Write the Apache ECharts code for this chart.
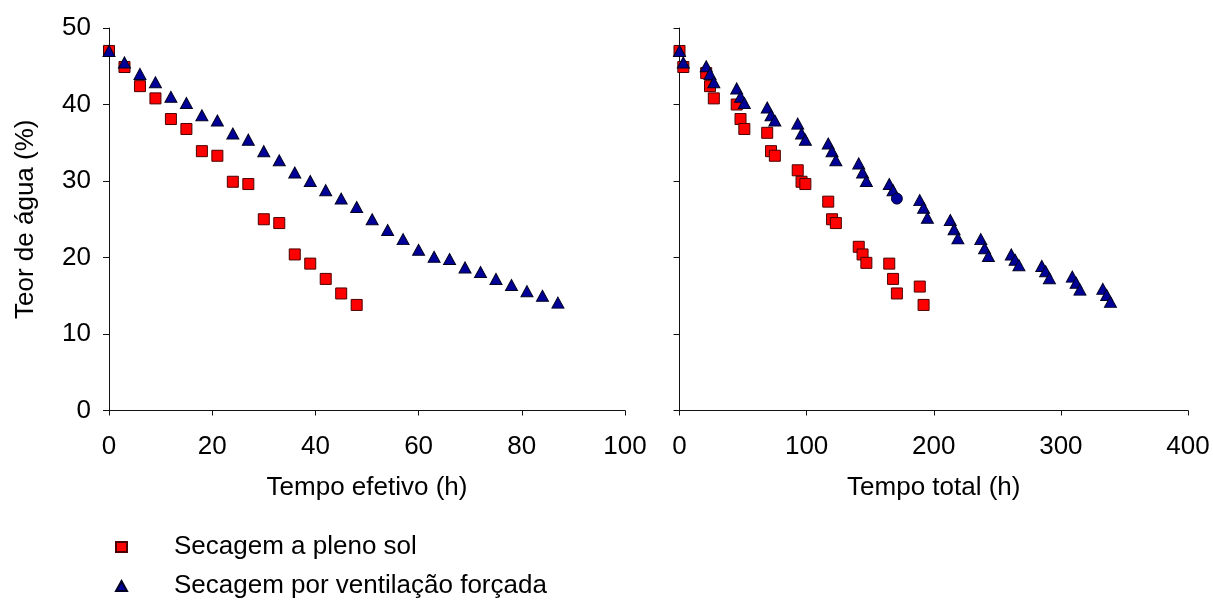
<!DOCTYPE html>
<html>
<head>
<meta charset="utf-8">
<script src="https://cdn.jsdelivr.net/npm/echarts@6/dist/echarts.min.js"></script>
<style>
html,body{margin:0;padding:0;background:#fff;}
#chart{width:1213px;height:607px;}
</style>
</head>
<body>
<div id="chart"></div>
<script>
// ---- Data ----
const seriesNames = ['Secagem a pleno sol', 'Secagem por ventilação forçada'];

// Left panel: Tempo efetivo (h)
const efSolTime = [0, 3, 6, 9, 12, 15, 18, 21, 24, 27, 30, 33, 36, 39, 42, 45, 48];
const efSolTeor = [47.0, 44.9, 42.4, 40.8, 38.1, 36.8, 33.9, 33.3, 29.9, 29.6, 25.0, 24.5, 20.4, 19.2, 17.2, 15.3, 13.8];

const efVentTime = [0, 3, 6, 9, 12, 15, 18, 21, 24, 27, 30, 33, 36, 39, 42, 45, 48, 51, 54, 57, 60, 63, 66, 69, 72, 75, 78, 81, 84, 87];
const efVentTeor = [47.0, 45.5, 44.0, 42.9, 41.0, 40.2, 38.6, 37.9, 36.2, 35.4, 33.9, 32.7, 31.1, 30.0, 28.8, 27.7, 26.6, 25.0, 23.6, 22.4, 21.0, 20.1, 19.8, 18.7, 18.1, 17.2, 16.4, 15.6, 15.0, 14.1];

// Right panel: Tempo total (h)
const totSolTime = [0, 3, 21, 24, 27, 45, 48, 51, 69, 72, 75, 93, 96, 99, 117, 120, 123, 141, 144, 147, 165, 168, 171, 189, 192];
const totSolTeor = [47.0, 44.9, 44.1, 42.4, 40.8, 40.0, 38.1, 36.8, 36.3, 33.9, 33.3, 31.4, 29.9, 29.6, 27.3, 25.0, 24.5, 21.4, 20.4, 19.3, 19.2, 17.2, 15.3, 16.2, 13.8];

const totVentTime = [0, 3, 21, 24, 27, 45, 48, 51, 69, 72, 75, 93, 96, 99, 117, 120, 123, 141, 144, 147, 165, 168, 171, 189, 192, 195, 213, 216, 219, 237, 240, 243, 261, 264, 267, 285, 288, 291, 309, 312, 315, 333, 336, 339];
const totVentTeor = [47.0, 45.5, 45.0, 44.0, 42.9, 42.1, 41.0, 40.2, 39.6, 38.6, 37.9, 37.5, 36.2, 35.4, 34.9, 33.9, 32.7, 32.3, 31.1, 30.0, 29.6, 28.8, 27.7, 27.5, 26.5, 25.2, 24.9, 23.7, 22.5, 22.4, 21.2, 20.2, 20.4, 19.7, 19.0, 18.9, 18.2, 17.3, 17.5, 16.7, 15.8, 15.9, 15.1, 14.2];
const circlePointTime = 171; // drawn as a circle in the original

const yTicks = { min: 0, max: 50, interval: 10 };
const xLeftTicks = { min: 0, max: 100, interval: 20 };
const xRightTicks = { min: 0, max: 400, interval: 100 };

// ---- Chart ----
const FONT = '"Liberation Sans", Arial, sans-serif';
const AXIS_COLOR = '#111';
const SOL_COLOR = '#ff0000';
const VENT_COLOR = '#000099';

function pairs(xs, ys) { return xs.map((x, i) => [x, ys[i]]); }

const solStyle = { color: SOL_COLOR, borderColor: '#4a0000', borderWidth: 1, opacity: 1 };
const ventStyle = { color: VENT_COLOR, borderColor: '#000022', borderWidth: 1, opacity: 1 };

function xAxisCfg(grid, t, name) {
  return {
    type: 'value', gridIndex: grid, min: t.min, max: t.max, interval: t.interval,
    name: name, nameLocation: 'middle', nameGap: 64,
    nameTextStyle: { fontFamily: FONT, fontSize: 26, color: '#000' },
    axisLine: { show: true, onZero: false, lineStyle: { color: AXIS_COLOR, width: 1 } },
    axisTick: { show: true, length: 5, lineStyle: { color: AXIS_COLOR } },
    axisLabel: { fontFamily: FONT, fontSize: 26, color: '#000', margin: 23 },
    splitLine: { show: false }
  };
}
function yAxisCfg(grid, showLabels, name) {
  return {
    type: 'value', gridIndex: grid, min: yTicks.min, max: yTicks.max, interval: yTicks.interval,
    name: name, nameLocation: 'middle', nameGap: 70,
    nameTextStyle: { fontFamily: FONT, fontSize: 26, color: '#000' },
    axisLine: { show: true, onZero: false, lineStyle: { color: AXIS_COLOR, width: 1 } },
    axisTick: { show: true, length: 6, lineStyle: { color: AXIS_COLOR } },
    axisLabel: { show: showLabels, fontFamily: FONT, fontSize: 26, color: '#000', margin: 18 },
    splitLine: { show: false }
  };
}

const chart = echarts.init(document.getElementById('chart'), null, { renderer: 'canvas' });
chart.setOption({
  backgroundColor: '#fff',
  animation: false,
  textStyle: { fontFamily: FONT },
  grid: [
    { left: 109, top: 28, width: 516, height: 382.5 },
    { left: 679.5, top: 28, width: 508.5, height: 382.5 }
  ],
  xAxis: [
    xAxisCfg(0, xLeftTicks, 'Tempo efetivo (h)'),
    xAxisCfg(1, xRightTicks, 'Tempo total (h)')
  ],
  yAxis: [
    yAxisCfg(0, true, 'Teor de água (%)'),
    yAxisCfg(1, false, '')
  ],
  legend: {
    orient: 'vertical', left: 115, top: 534, padding: 0, itemGap: 13,
    itemWidth: 11, itemHeight: 10,
    data: seriesNames,
    itemStyle: { opacity: 1 },
    textStyle: { fontFamily: FONT, fontSize: 26, color: '#000', padding: [0, 0, 0, 42] }
  },
  series: [
    { name: seriesNames[0], type: 'scatter', xAxisIndex: 0, yAxisIndex: 0, symbol: 'rect', symbolSize: 11,
      itemStyle: solStyle, data: pairs(efSolTime, efSolTeor) },
    { name: seriesNames[1], type: 'scatter', xAxisIndex: 0, yAxisIndex: 0, symbol: 'triangle', symbolSize: [12, 11],
      itemStyle: ventStyle, data: pairs(efVentTime, efVentTeor) },
    { name: seriesNames[0], type: 'scatter', xAxisIndex: 1, yAxisIndex: 1, symbol: 'rect', symbolSize: 11,
      itemStyle: solStyle, data: pairs(totSolTime, totSolTeor) },
    { name: seriesNames[1], type: 'scatter', xAxisIndex: 1, yAxisIndex: 1, symbol: 'triangle', symbolSize: [12, 11],
      itemStyle: ventStyle,
      data: pairs(totVentTime, totVentTeor).map(p => p[0] === circlePointTime
        ? { value: p, symbol: 'circle', symbolSize: 11 } : p) }
  ]
});
</script>
</body>
</html>
